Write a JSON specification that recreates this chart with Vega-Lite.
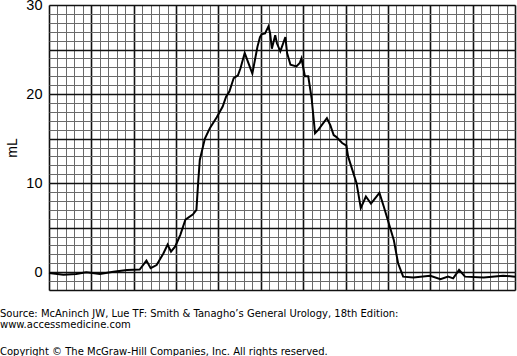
{
  "$schema": "https://vega.github.io/schema/vega-lite/v6.json",
  "width": 466,
  "height": 285,
  "autosize": {"type": "none"},
  "padding": {"left": 49, "top": 5, "right": 2, "bottom": 66},
  "background": "white",
  "config": {"view": {"stroke": null}},
  "title": {
    "text": ["Source: McAninch JW, Lue TF: Smith & Tanagho’s General Urology, 18th Edition:", "www.accessmedicine.com"],
    "subtitle": "Copyright © The McGraw-Hill Companies, Inc. All rights reserved.",
    "orient": "bottom",
    "anchor": "start",
    "frame": "group",
    "dx": -49,
    "offset": 19,
    "font": "DejaVu Sans",
    "fontSize": 10,
    "fontWeight": "normal",
    "color": "#000",
    "lineHeight": 11,
    "subtitleFont": "DejaVu Sans",
    "subtitleFontSize": 10,
    "subtitleColor": "#000",
    "subtitlePadding": 17
  },
  "data": {"values": [
    {"t": 0, "v": -0.1}, {"t": 1.7, "v": -0.3}, {"t": 3.2, "v": -0.2}, {"t": 4.4, "v": 0.0},
    {"t": 6.0, "v": -0.2}, {"t": 7.6, "v": 0.05}, {"t": 9.2, "v": 0.25}, {"t": 10.7, "v": 0.3},
    {"t": 11.5, "v": 1.3}, {"t": 12.0, "v": 0.45}, {"t": 12.7, "v": 0.8}, {"t": 13.5, "v": 2.1},
    {"t": 14.0, "v": 3.1}, {"t": 14.4, "v": 2.3}, {"t": 14.9, "v": 2.9}, {"t": 15.5, "v": 4.2},
    {"t": 16.1, "v": 5.9}, {"t": 17.0, "v": 6.5}, {"t": 17.4, "v": 7.0}, {"t": 17.6, "v": 10.0},
    {"t": 17.8, "v": 12.6}, {"t": 18.4, "v": 15.0}, {"t": 19.0, "v": 16.2}, {"t": 19.8, "v": 17.4},
    {"t": 20.5, "v": 18.6}, {"t": 20.9, "v": 19.7}, {"t": 21.3, "v": 20.3}, {"t": 21.8, "v": 21.8},
    {"t": 22.3, "v": 22.1}, {"t": 22.6, "v": 22.9}, {"t": 23.1, "v": 24.6}, {"t": 24.0, "v": 22.3},
    {"t": 24.6, "v": 25.3}, {"t": 24.9, "v": 26.4}, {"t": 25.1, "v": 26.7}, {"t": 25.5, "v": 26.8},
    {"t": 25.9, "v": 27.6}, {"t": 26.1, "v": 26.8}, {"t": 26.3, "v": 25.1}, {"t": 26.7, "v": 26.6},
    {"t": 26.9, "v": 25.7}, {"t": 27.3, "v": 24.8}, {"t": 27.9, "v": 26.4}, {"t": 28.1, "v": 24.6},
    {"t": 28.5, "v": 23.3}, {"t": 29.2, "v": 23.1}, {"t": 29.6, "v": 23.5}, {"t": 29.8, "v": 24.0},
    {"t": 30.2, "v": 22.0}, {"t": 30.6, "v": 22.0}, {"t": 31.0, "v": 19.5}, {"t": 31.4, "v": 15.6},
    {"t": 31.8, "v": 16.0}, {"t": 32.8, "v": 17.3}, {"t": 33.2, "v": 16.5}, {"t": 33.6, "v": 15.4},
    {"t": 33.9, "v": 15.2}, {"t": 34.6, "v": 14.5}, {"t": 35.1, "v": 14.2}, {"t": 35.3, "v": 13.0},
    {"t": 36.3, "v": 10.0}, {"t": 36.8, "v": 7.2}, {"t": 37.4, "v": 8.5}, {"t": 38.0, "v": 7.7},
    {"t": 39.0, "v": 8.9}, {"t": 39.5, "v": 7.4}, {"t": 40.7, "v": 3.6}, {"t": 41.2, "v": 1.0},
    {"t": 41.8, "v": -0.5}, {"t": 43.0, "v": -0.6}, {"t": 45.0, "v": -0.4}, {"t": 46.2, "v": -0.8},
    {"t": 47.1, "v": -0.5}, {"t": 47.7, "v": -0.7}, {"t": 48.4, "v": 0.25}, {"t": 49.1, "v": -0.5},
    {"t": 51.3, "v": -0.6}, {"t": 53.6, "v": -0.4}, {"t": 55, "v": -0.5}
  ]},
  "layer": [
    {
      "mark": {"type": "line", "strokeOpacity": 0},
      "encoding": {
        "x": {"field": "t", "type": "quantitative",
          "scale": {"domain": [0, 55], "nice": false, "zero": false},
          "axis": {"orient": "bottom", "values": [0,1,2,3,4,5,6,7,8,9,10,11,12,13,14,15,16,17,18,19,20,21,22,23,24,25,26,27,28,29,30,31,32,33,34,35,36,37,38,39,40,41,42,43,44,45,46,47,48,49,50,51,52,53,54,55],
            "grid": true, "gridColor": "#6a6a6a", "gridWidth": 1, "gridOpacity": 1,
            "labels": false, "ticks": false, "domain": false, "title": null}},
        "y": {"field": "v", "type": "quantitative",
          "scale": {"domain": [-2, 30], "nice": false, "zero": false},
          "axis": {"orient": "left", "values": [-2,-1,0,1,2,3,4,5,6,7,8,9,10,11,12,13,14,15,16,17,18,19,20,21,22,23,24,25,26,27,28,29,30],
            "grid": true, "gridColor": "#6a6a6a", "gridWidth": 1, "gridOpacity": 1,
            "labels": false, "ticks": false, "domain": false, "title": null}}
      }
    },
    {
      "mark": {"type": "line", "color": "#000", "strokeWidth": 2},
      "encoding": {
        "x": {"field": "t", "type": "quantitative",
          "scale": {"domain": [0, 55], "nice": false, "zero": false},
          "axis": {"orient": "bottom", "values": [0,5,10,15,20,25,30,35,40,45,50,55],
            "grid": true, "gridColor": "#111", "gridWidth": 1.6, "gridOpacity": 1,
            "labels": false, "ticks": false, "domain": false, "title": null}},
        "y": {"field": "v", "type": "quantitative",
          "scale": {"domain": [-2, 30], "nice": false, "zero": false},
          "axis": {"orient": "left", "values": [-2,0,5,10,15,20,25,30],
            "grid": true, "gridColor": "#111", "gridWidth": 1.6, "gridOpacity": 1,
            "labelExpr": "datum.value % 10 === 0 ? datum.label : ''",
            "labelFont": "Liberation Sans", "labelFontSize": 14.5, "labelColor": "#000",
            "labelPadding": 7, "ticks": false, "domain": false,
            "title": "mL", "titleFont": "Liberation Sans", "titleFontSize": 14, "titleFontWeight": "normal",
            "titleColor": "#000", "titlePadding": 6}}
      }
    }
  ],
  "resolve": {"axis": {"x": "independent", "y": "independent"}}
}
